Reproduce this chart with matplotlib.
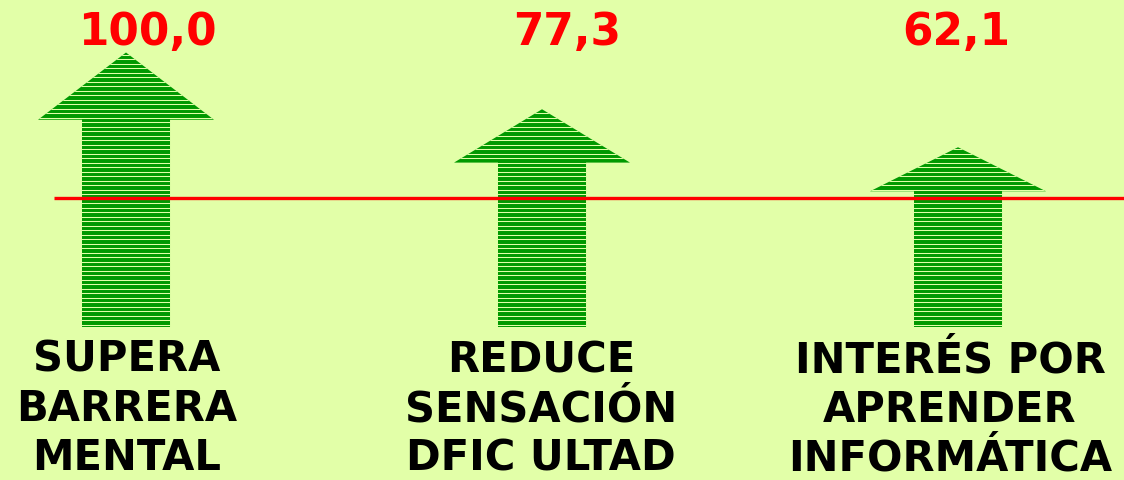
import numpy as np
import matplotlib
matplotlib.use("Agg")
import matplotlib.pyplot as plt
from matplotlib.patches import Polygon
from matplotlib.transforms import blended_transform_factory, offset_copy

# ---- data ----
categories = ["SUPERA\nBARRERA\nMENTAL",
              "REDUCE\nSENSACIÓN\nDFIC ULTAD",
              "INTERÉS POR\nAPRENDER\nINFORMÁTICA"]
values = [100.0, 77.3, 62.1]
value_labels = ["100,0", "77,3", "62,1"]
reference_level = 41.8

# ---- style / layout ----
W, H, DPI = 1124, 481, 100
BG = "#E2FFA8"
GREEN = "#009900"
RED = "#FF0000"

fig = plt.figure(figsize=(W / DPI, H / DPI), dpi=DPI)
fig.patch.set_facecolor(BG)
ax = fig.add_axes([0, 0, 1, 1])
ax.set_facecolor(BG)
ax.axis("off")

# x: category index, y: value
ax.set_xlim(-0.3029, 2.399)
ax.set_ylim(-71.0, 121.4)

base = -9.8          # bottom of the arrows
shaft_hw = 0.1058    # shaft half width (x units)
head_hw = 0.2115     # head half width
head_frac = 0.245    # head height as fraction of arrow height
stripe_step = 1.8    # stripe spacing (y units)

for i, v in enumerate(values):
    total = v - base
    hb = v - head_frac * total
    pts = [(i - shaft_hw, base), (i - shaft_hw, hb), (i - head_hw, hb),
           (i, v), (i + head_hw, hb), (i + shaft_hw, hb), (i + shaft_hw, base)]
    poly = Polygon(pts, closed=True, facecolor=GREEN, edgecolor="none", zorder=2)
    ax.add_patch(poly)
    ys = np.arange(base + 1.0, v, stripe_step)
    lines = ax.hlines(ys, i - head_hw - 0.01, i + head_hw + 0.01,
                      colors=BG, linewidth=0.75, zorder=3)
    lines.set_clip_path(poly)

# reference line
ax.plot([-0.173, 2.399], [reference_level, reference_level], color=RED,
        linewidth=2.4, zorder=4, solid_capstyle="butt")

# texts
trans = blended_transform_factory(ax.transData, fig.transFigure)
value_dx = [21, 25, -2]
label_dx = [1, -1, -8]
label_base = [372, 373, 373]
for i, (vl, cat) in enumerate(zip(value_labels, categories)):
    t = offset_copy(trans, fig=fig, x=value_dx[i] * 72 / DPI, y=0, units="points")
    ax.text(i, 1 - 45 / H, vl, transform=t, ha="center", va="baseline",
            color=RED, fontsize=31.5, fontweight="bold", family="DejaVu Sans")
    t2 = offset_copy(trans, fig=fig, x=label_dx[i] * 72 / DPI, y=0, units="points")
    for k, line in enumerate(cat.split("\n")):
        ax.text(i, 1 - (label_base[i] + 49 * k) / H, line, transform=t2,
                ha="center", va="baseline", color="black", fontsize=30,
                fontweight="bold", family="DejaVu Sans")

fig.savefig("out.png", dpi=DPI, facecolor=BG)
